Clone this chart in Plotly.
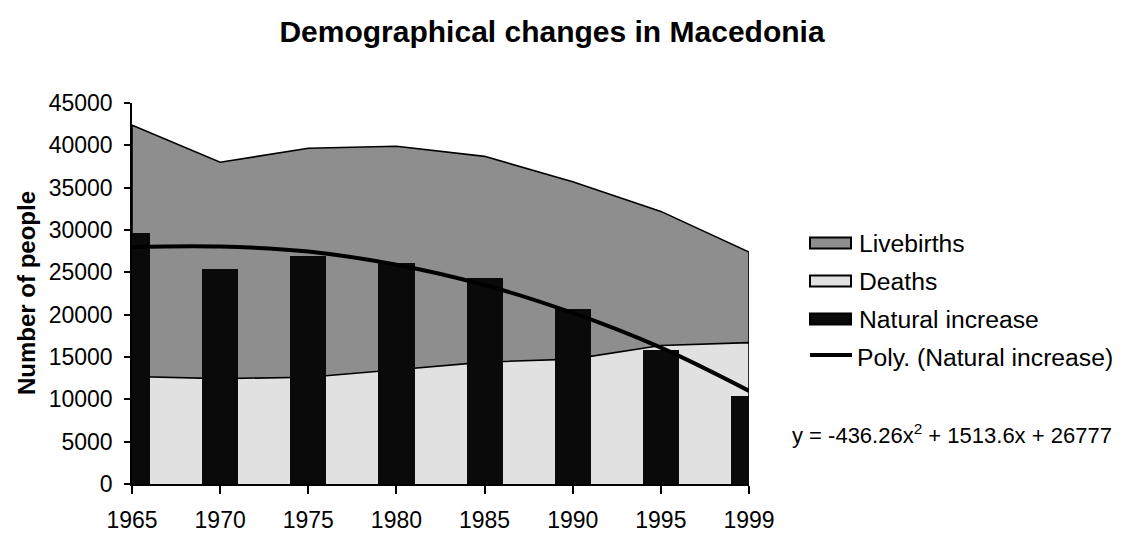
import plotly.graph_objects as go

# ---- data ----
years = ["1965", "1970", "1975", "1980", "1985", "1990", "1995", "1999"]
livebirths = [42400, 38000, 39650, 39900, 38700, 35700, 32200, 27400]
deaths = [12700, 12450, 12600, 13500, 14400, 14750, 16350, 16700]
natural_increase = [29650, 25400, 26900, 26100, 24300, 20700, 15800, 10400]
poly_trend = [28000, 28050, 27450, 25900, 23500, 20200, 16100, 11000]
y_ticks = [0, 5000, 10000, 15000, 20000, 25000, 30000, 35000, 40000, 45000]
equation_text = "y = -436.26x<sup>2</sup> + 1513.6x + 26777"

FONT = "Liberation Sans, Arial, sans-serif"
C_LIVE = "#8e8e8e"
C_DEATH = "#e1e1e1"
C_NAT = "#0a0a0a"

OFF = 8  # page body margin
W, H = 1124 - OFF, 534 - OFF
X0, X1 = 132 - OFF, 749 - OFF   # plot area in figure pixels
Y0, Y1 = 103 - OFF, 484 - OFF


def xp(px):
    """reference-page pixel -> paper x"""
    return (px - OFF - X0) / (X1 - X0)


def yp(py):
    """reference-page pixel -> paper y"""
    return (Y1 - (py - OFF)) / (Y1 - Y0)


idx = list(range(len(years)))
poly_x = [idx[0]] + idx + [idx[-1]]

fig = go.Figure()

fig.add_trace(go.Scatter(
    x=poly_x, y=[0] + livebirths + [0], fill="toself", fillcolor=C_LIVE,
    mode="lines", line=dict(color="black", width=1.6), name="Livebirths",
    showlegend=False, cliponaxis=False, xaxis="x", yaxis="y"))
fig.add_trace(go.Scatter(
    x=poly_x, y=[0] + deaths + [0], fill="toself", fillcolor=C_DEATH,
    mode="lines", line=dict(color="black", width=1.6), name="Deaths",
    showlegend=False, cliponaxis=False, xaxis="x", yaxis="y"))
fig.add_trace(go.Bar(
    x=idx, y=natural_increase, width=0.41, marker=dict(color=C_NAT, line=dict(width=0)),
    name="Natural increase", showlegend=False, xaxis="x2", yaxis="y2"))
fig.add_trace(go.Scatter(
    x=idx, y=poly_trend, mode="lines", line=dict(color="black", width=4, shape="spline"),
    name="Poly. (Natural increase)", showlegend=False, xaxis="x2", yaxis="y2"))

axis_common = dict(range=[0, len(years) - 1], showgrid=False, zeroline=False, automargin=False)
fig.update_layout(
    width=W, height=H,
    margin=dict(l=X0, r=W - X1, t=Y0, b=H - Y1, pad=0, autoexpand=False),
    paper_bgcolor="white", plot_bgcolor="white",
    font=dict(family=FONT, size=23, color="black"),
    showlegend=False,
    bargap=0,
    title=dict(text="<b>Demographical changes in Macedonia</b>", x=(552 - OFF) / W, xref="container",
               xanchor="center", y=1 - (31 - OFF) / H, yref="container", yanchor="middle",
               font=dict(family=FONT, size=30, color="black")),
    xaxis=dict(**axis_common, tickmode="array", tickvals=idx, ticktext=years,
               showline=True, linecolor="black", linewidth=1.6,
               ticks="outside", ticklen=8, tickwidth=1.6, tickcolor="black",
               ticklabelstandoff=7,
               tickfont=dict(family=FONT, size=23, color="black")),
    yaxis=dict(range=[0, 45000], tickmode="array", tickvals=y_ticks,
               ticktext=[str(v) for v in y_ticks], automargin=False,
               showgrid=False, zeroline=False, showline=True, linecolor="black", linewidth=1.6,
               ticks="outside", ticklen=6, tickwidth=1.6, tickcolor="black",
               ticklabelstandoff=7,
               tickfont=dict(family=FONT, size=23, color="black")),
    xaxis2=dict(**axis_common, overlaying="x", visible=False),
    yaxis2=dict(range=[0, 45000], overlaying="y", visible=False, showgrid=False,
                zeroline=False, automargin=False),
)

fig.add_annotation(text="<b>Number of people</b>", textangle=-90, xref="paper", yref="paper",
                   x=xp(26), y=yp(293), showarrow=False, xanchor="center", yanchor="middle",
                   font=dict(family=FONT, size=24, color="black"))

# legend (drawn manually to mimic the original key)
legend_items = [("Livebirths", C_LIVE, 243), ("Deaths", C_DEATH, 281),
                ("Natural increase", C_NAT, 319)]
for label, col, cy in legend_items:
    fig.add_shape(type="rect", xref="paper", yref="paper",
                  x0=xp(810), x1=xp(851), y0=yp(cy - 5.5), y1=yp(cy + 5.5),
                  fillcolor=col, line=dict(color="black", width=2))
    fig.add_annotation(text=label, xref="paper", yref="paper", x=xp(857), y=yp(cy),
                       showarrow=False, xanchor="left", yanchor="middle",
                       font=dict(family=FONT, size=24.7, color="black"))
fig.add_shape(type="line", xref="paper", yref="paper", x0=xp(810), x1=xp(852),
              y0=yp(355), y1=yp(355), line=dict(color="black", width=4))
fig.add_annotation(text="Poly. (Natural increase)", xref="paper", yref="paper", x=xp(855), y=yp(357),
                   showarrow=False, xanchor="left", yanchor="middle",
                   font=dict(family=FONT, size=24.7, color="black"))

fig.add_annotation(text=equation_text, xref="paper", yref="paper", x=xp(790), y=yp(434),
                   showarrow=False, xanchor="left", yanchor="middle",
                   font=dict(family=FONT, size=22, color="black"))

fig.write_html("out.html")
